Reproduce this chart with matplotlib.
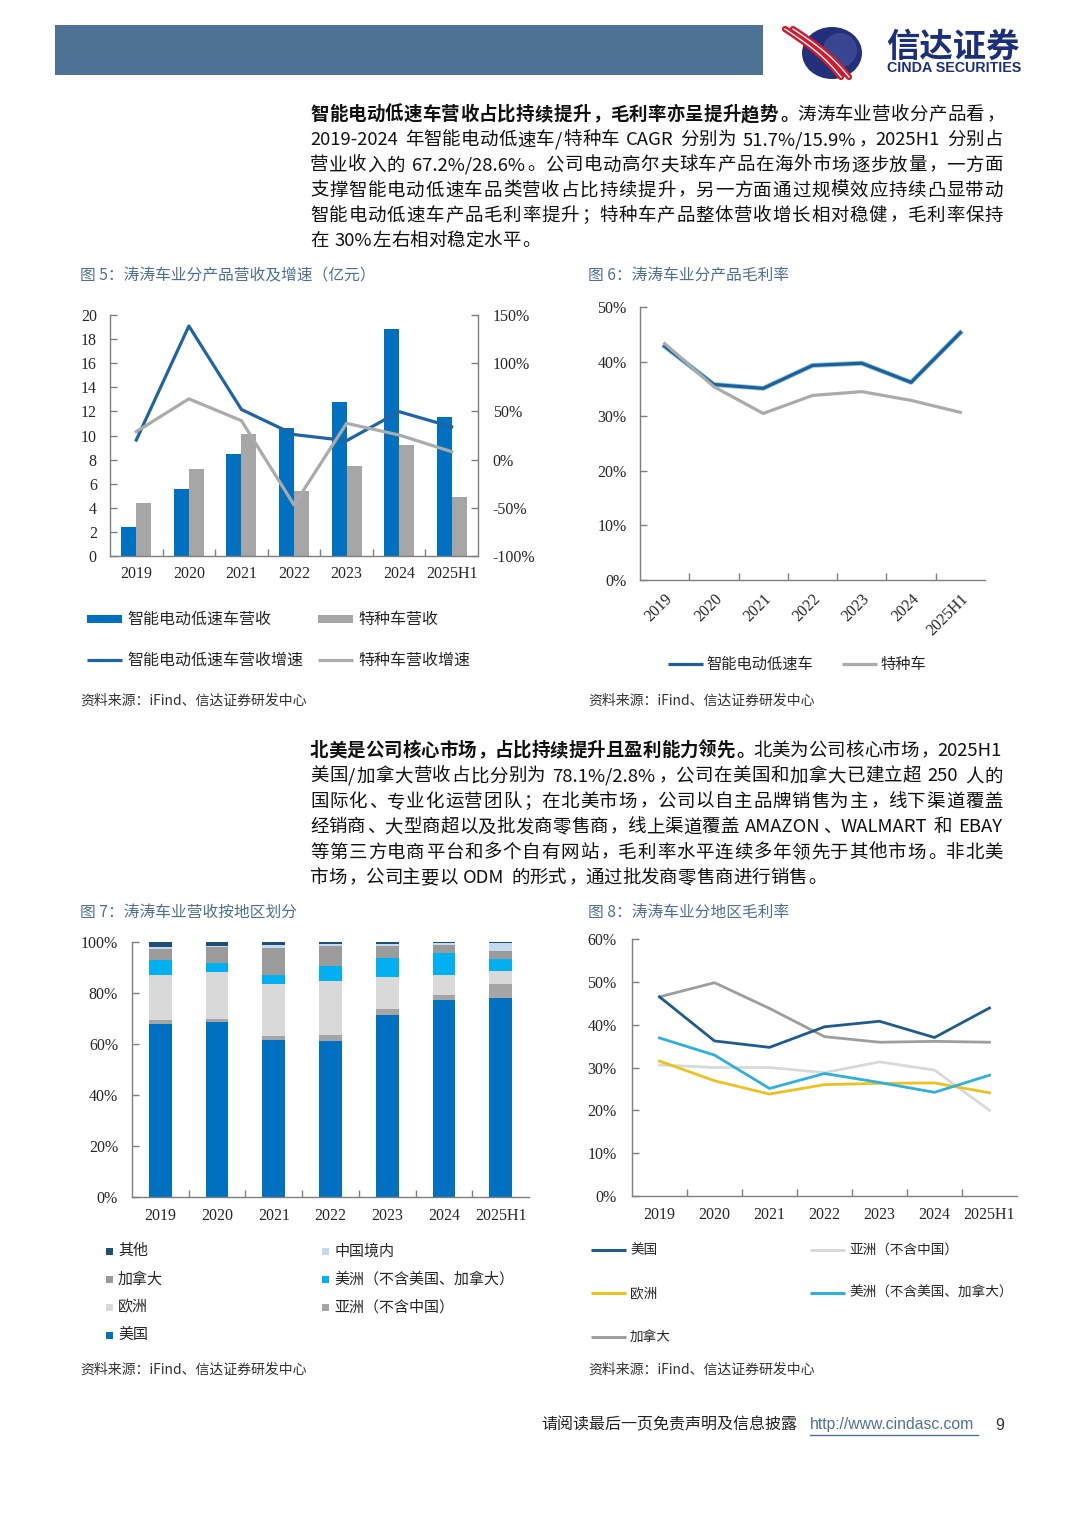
import re
import numpy as np
import matplotlib
matplotlib.use('Agg')
import matplotlib.pyplot as plt
from matplotlib.patches import Rectangle, Ellipse
from matplotlib.font_manager import FontProperties
import matplotlib.patheffects as pe

CJK = ['Noto Sans CJK SC', 'DejaVu Sans']
SERIF = ['Liberation Serif', 'DejaVu Serif']
plt.rcParams['font.family'] = CJK

# ---------------- data ----------------
years = ['2019', '2020', '2021', '2022', '2023', '2024', '2025H1']

# Fig 5: revenue (亿元) and growth (%)
rev_smart = [2.4, 5.6, 8.5, 10.65, 12.8, 18.87, 11.54]
rev_special = [4.4, 7.2, 10.1, 5.4, 7.44, 9.21, 4.9]
growth_smart = [20.3, 138.6, 52.0, 26.0, 19.6, 49.7, 34.0]
growth_special = [29.0, 63.0, 40.4, -47.0, 37.6, 25.5, 8.2]

# Fig 6: gross margin by product (%)
margin_smart = [42.8, 35.8, 35.1, 39.3, 39.7, 36.2, 45.3]
margin_special = [43.3, 35.4, 30.5, 33.8, 34.5, 32.9, 30.7]

# Fig 7: revenue share by region (%), bottom to top
share_us = [67.7, 68.6, 61.7, 61.2, 71.4, 77.1, 78.1]
share_asia = [1.8, 1.3, 1.5, 2.5, 2.4, 2.0, 5.3]
share_eu = [17.4, 18.3, 20.5, 21.0, 12.5, 7.8, 5.4]
share_am = [6.2, 3.4, 3.5, 5.9, 7.4, 8.9, 4.7]
share_ca = [4.2, 6.4, 10.5, 7.8, 4.6, 3.2, 2.8]
share_cn = [0.6, 0.6, 1.1, 0.9, 0.9, 0.7, 3.2]
share_other = [2.1, 1.4, 1.2, 0.7, 0.8, 0.3, 0.5]

# Fig 8: gross margin by region (%)
gm_us = [46.5, 36.2, 34.7, 39.5, 40.8, 37.0, 43.9]
gm_asia = [30.6, 30.0, 30.0, 28.8, 31.3, 29.4, 20.0]
gm_eu = [31.5, 26.9, 23.8, 26.0, 26.3, 26.4, 24.1]
gm_am = [36.9, 32.9, 25.1, 28.6, 26.5, 24.2, 28.2]
gm_ca = [46.5, 49.8, 43.8, 37.2, 35.9, 36.1, 35.9]

# ---------------- figure ----------------
W, H = 1080, 1527
fig = plt.figure(figsize=(W / 100, H / 100), dpi=100)
fig.patch.set_facecolor('white')
bg = fig.add_axes([0, 0, 1, 1])
bg.set_xlim(0, W)
bg.set_ylim(H, 0)
bg.axis('off')
renderer = fig.canvas.get_renderer()


def px_axes(x0, y0, x1, y1):
    ax = fig.add_axes([x0 / W, 1 - y1 / H, (x1 - x0) / W, (y1 - y0) / H])
    ax.set_facecolor('none')
    return ax


SPINE = '#7f7f7f'
TICKC = '#262626'


def style(ax, spines=('left', 'bottom'), size=11.5, ypad=9.5, xpad=6):
    for k, s in ax.spines.items():
        s.set_visible(k in spines)
        s.set_color(SPINE)
        s.set_linewidth(1)
    ax.tick_params(direction='in', length=5, color=SPINE, labelsize=size,
                   labelcolor=TICKC, labelfontfamily=SERIF, width=1)
    ax.tick_params(axis='y', pad=ypad)
    ax.tick_params(axis='x', pad=xpad)


def cat_xaxis(ax, n, rotation=0, pad=6):
    ax.set_xlim(-0.5, n - 0.5)
    ax.set_xticks(np.arange(0.5, n - 1, 1.0))
    ax.set_xticklabels([])
    ax.set_xticks(np.arange(n), minor=True)
    if rotation:
        ax.set_xticklabels(years, minor=True, rotation=rotation, ha='right',
                           rotation_mode='anchor')
    else:
        ax.set_xticklabels(years, minor=True)
    ax.tick_params(axis='x', which='minor', length=0, pad=pad,
                   labelsize=11.5, labelcolor=TICKC, labelfontfamily=SERIF)


pctfmt = matplotlib.ticker.FuncFormatter(lambda v, p: f'{v:.0f}%')
x = np.arange(len(years))

# ---------------- header ----------------
bg.add_patch(Rectangle((55, 25), 708, 50, color='#4e7296', lw=0))
bg.add_patch(Ellipse((832, 53), 60, 52, color='#25307a', lw=0))
bg.add_patch(Ellipse((840, 50), 34, 34, color='#4a5aa8', lw=0, alpha=0.55))
tt = np.linspace(0, 1, 60)
for off in (-4, 4):
    xs = 789 + off + 56 * tt + 5 * np.sin(np.pi * tt)
    ys = 29 + 48 * tt
    bg.plot(xs, ys, color='#d7182a', lw=4.5, solid_capstyle='round')
    bg.plot(xs, ys, color='white', lw=1.0)
bg.text(886, 57, '信达证券', fontsize=24, fontweight='bold', color='#1b2f7a',
        va='baseline', ha='left')
bg.text(887, 72, 'CINDA SECURITIES', fontsize=10.3, fontweight='bold',
        family=['Liberation Sans', 'DejaVu Sans'], color='#1b2f7a',
        va='baseline', ha='left')

# ---------------- justified body text ----------------
TOK = re.compile(r'[A-Za-z0-9%./\-]+|\s+|.')
BODY = 13.3
EM = BODY / 72 * 100


def measure(t, wt, size):
    fp = FontProperties(family=CJK, size=size, weight=wt)
    w, h, d = renderer.get_text_width_height_descent(t, fp, ismath=False)
    return w


def jline(segments, x0, x1, yc, justify=True):
    toks = []
    for s, wt in segments:
        for t in TOK.findall(s):
            toks.append((t, wt))
    widths = []
    for t, wt in toks:
        if t.isspace():
            widths.append(0.3 * EM)
        elif ord(t[0]) > 0x2E80:
            widths.append(EM)
        else:
            widths.append(measure(t, wt, BODY) + 1)
    total = sum(widths)
    gap = (x1 - x0 - total) / (len(toks) - 1) if (justify and len(toks) > 1) else 0.0
    xx = x0
    yb = yc + 0.38 * EM
    for (t, wt), w in zip(toks, widths):
        if not t.isspace():
            kw = dict(fontsize=BODY, fontweight=wt, color='#111111', va='baseline')
            if ord(t[0]) > 0x2E80:
                if t in '，。；、：':
                    bg.text(xx + 0.08 * EM, yb, t, ha='left', **kw)
                elif t == '（':
                    bg.text(xx + 0.95 * EM, yb, t, ha='right', **kw)
                elif t == '）':
                    bg.text(xx + 0.05 * EM, yb, t, ha='left', **kw)
                else:
                    bg.text(xx + EM / 2, yb, t, ha='center', **kw)
            else:
                bg.text(xx, yb, t, ha='left', **kw)
        xx += w + gap


para1 = [
    [('智能电动低速车营收占比持续提升，毛利率亦呈提升趋势。', 'bold'), ('涛涛车业营收分产品看，', 'normal')],
    [('2019-2024 年智能电动低速车/特种车 CAGR 分别为 51.7%/15.9%，2025H1 分别占', 'normal')],
    [('营业收入的 67.2%/28.6%。公司电动高尔夫球车产品在海外市场逐步放量，一方面', 'normal')],
    [('支撑智能电动低速车品类营收占比持续提升，另一方面通过规模效应持续凸显带动', 'normal')],
    [('智能电动低速车产品毛利率提升；特种车产品整体营收增长相对稳健，毛利率保持', 'normal')],
    [('在 30%左右相对稳定水平。', 'normal')],
]
para2 = [
    [('北美是公司核心市场，占比持续提升且盈利能力领先。', 'bold'), ('北美为公司核心市场，2025H1', 'normal')],
    [('美国/加拿大营收占比分别为 78.1%/2.8%，公司在美国和加拿大已建立超 250 人的', 'normal')],
    [('国际化、专业化运营团队；在北美市场，公司以自主品牌销售为主，线下渠道覆盖', 'normal')],
    [('经销商、大型商超以及批发商零售商，线上渠道覆盖 AMAZON、WALMART 和 EBAY', 'normal')],
    [('等第三方电商平台和多个自有网站，毛利率水平连续多年领先于其他市场。非北美', 'normal')],
    [('市场，公司主要以 ODM 的形式，通过批发商零售商进行销售。', 'normal')],
]
for i, segs in enumerate(para1):
    jline(segs, 310, 1003, 113 + i * 25.2, justify=(i < len(para1) - 1))
for i, segs in enumerate(para2):
    jline(segs, 310, 1003, 749 + i * 25.4, justify=(i < len(para2) - 1))

# ---------------- captions / sources ----------------
CAPC = '#4d6f96'
bg.text(80, 276, '图 5：涛涛车业分产品营收及增速（亿元）', fontsize=11.3, color=CAPC, va='center')
bg.text(588, 276, '图 6：涛涛车业分产品毛利率', fontsize=11.3, color=CAPC, va='center')
bg.text(80, 912, '图 7：涛涛车业营收按地区划分', fontsize=11.3, color=CAPC, va='center')
bg.text(588, 912, '图 8：涛涛车业分地区毛利率', fontsize=11.3, color=CAPC, va='center')
for sx, sy in ((80, 701), (588, 701), (80, 1370), (588, 1370)):
    bg.text(sx, sy, '资料来源：iFind、信达证券研发中心', fontsize=10, color='#333333',
            va='center', style='italic')

# footer
bg.text(541, 1425, '请阅读最后一页免责声明及信息披露', fontsize=11.5, color='#222222', va='center')
bg.text(810, 1425, 'http://www.cindasc.com', fontsize=11.3, color='#4f6f9f', va='center',
        family=['Liberation Sans', 'DejaVu Sans'])
bg.plot([810, 978], [1435, 1435], color='#4f6f9f', lw=1)
bg.text(995, 1425, '9', fontsize=11.5, color='#333333', va='center',
        family=['Liberation Sans', 'DejaVu Sans'])

# ---------------- Fig 5 ----------------
C_BLUE = '#0070c0'
C_GRAY = '#a6a6a6'
ax5 = px_axes(110, 315, 478, 556)
bw = 0.285
ax5.bar(x - bw / 2, rev_smart, bw, color=C_BLUE, zorder=2)
ax5.bar(x + bw / 2, rev_special, bw, color=C_GRAY, zorder=2)
ax5.set_ylim(0, 20)
ax5.set_yticks(np.arange(0, 21, 2))
style(ax5, spines=('left', 'bottom'), ypad=9.5)
cat_xaxis(ax5, len(years), pad=7)
ax5b = ax5.twinx()
ax5b.plot(x, growth_smart, color='#1f64a6', lw=2.3, zorder=3)
ax5b.plot(x, growth_special, color='#ababab', lw=2.3, zorder=3)
ax5b.set_ylim(-100, 150)
ax5b.set_yticks(np.arange(-100, 151, 50))
ax5b.yaxis.set_major_formatter(pctfmt)
style(ax5b, spines=('right',), ypad=10.5)
ax5b.tick_params(axis='y', labelright=True, labelleft=False)

# legend fig 5
bg.add_patch(Rectangle((87, 615), 35, 8, color=C_BLUE, lw=0))
bg.text(127, 619, '智能电动低速车营收', fontsize=11.5, color='#262626', va='center')
bg.add_patch(Rectangle((318, 615), 35, 8, color=C_GRAY, lw=0))
bg.text(358, 619, '特种车营收', fontsize=11.5, color='#262626', va='center')
bg.plot([87, 122], [660, 660], color='#1f64a6', lw=2.3, solid_capstyle='butt')
bg.text(127, 660, '智能电动低速车营收增速', fontsize=11.5, color='#262626', va='center')
bg.plot([318, 353], [660, 660], color='#ababab', lw=2.3, solid_capstyle='butt')
bg.text(358, 660, '特种车营收增速', fontsize=11.5, color='#262626', va='center')

# ---------------- Fig 6 ----------------
ax6 = px_axes(640, 307, 985, 580)
C6B = '#1f5f94'
ax6.plot(x, margin_smart, color=C6B, lw=2.3,
         path_effects=[pe.Stroke(linewidth=3.6, foreground='#8fc7ea'), pe.Normal()])
ax6.plot(x, margin_special, color='#ababab', lw=2.3)
ax6.set_ylim(0, 50)
ax6.set_yticks(np.arange(0, 51, 10))
ax6.yaxis.set_major_formatter(pctfmt)
style(ax6, ypad=9.5)
cat_xaxis(ax6, len(years), rotation=45, pad=8)
bg.plot([668, 703], [664, 664], color=C6B, lw=2.3, solid_capstyle='butt')
bg.text(706, 664, '智能电动低速车', fontsize=11, color='#262626', va='center')
bg.plot([842, 877], [664, 664], color='#ababab', lw=2.3, solid_capstyle='butt')
bg.text(880, 664, '特种车', fontsize=11, color='#262626', va='center')

# ---------------- Fig 7 ----------------
ax7 = px_axes(132, 942, 529, 1197)
stack = [
    ('美国', share_us, '#0070c0'),
    ('亚洲（不含中国）', share_asia, '#a5a5a5'),
    ('欧洲', share_eu, '#d9d9d9'),
    ('美洲（不含美国、加拿大）', share_am, '#00b0f0'),
    ('加拿大', share_ca, '#9b9b9b'),
    ('中国境内', share_cn, '#c5d9ef'),
    ('其他', share_other, '#1f4e79'),
]
bottom = np.zeros(len(years))
for name, vals, col in stack:
    ax7.bar(x, vals, 0.4, bottom=bottom, color=col, lw=0, label=name)
    bottom += np.array(vals)
ax7.set_ylim(0, 100)
ax7.set_yticks(np.arange(0, 101, 20))
ax7.yaxis.set_major_formatter(pctfmt)
style(ax7, ypad=10)
cat_xaxis(ax7, len(years), pad=8)

colmap = {n: c for n, _, c in stack}
leg7 = [((106, 1251), '其他'), ((106, 1279), '加拿大'), ((106, 1307), '欧洲'), ((106, 1335), '美国'),
        ((322, 1251), '中国境内'), ((322, 1279), '美洲（不含美国、加拿大）'), ((322, 1307), '亚洲（不含中国）')]
for (lx, ly), name in leg7:
    bg.add_patch(Rectangle((lx, ly - 3.5), 7, 7, color=colmap[name], lw=0))
    bg.text(lx + 12, ly, name, fontsize=10.8, color='#262626', va='center')

# ---------------- Fig 8 ----------------
ax8 = px_axes(632, 939, 1017, 1196)
lines8 = [
    ('加拿大', gm_ca, '#9e9e9e'),
    ('亚洲（不含中国）', gm_asia, '#d9d9d9'),
    ('欧洲', gm_eu, '#ebc21f'),
    ('美洲（不含美国、加拿大）', gm_am, '#2fb1dc'),
    ('美国', gm_us, '#1f5c8c'),
]
for name, vals, col in lines8:
    ax8.plot(x, vals, color=col, lw=2.0, label=name)
ax8.set_ylim(0, 60)
ax8.set_yticks(np.arange(0, 61, 10))
ax8.yaxis.set_major_formatter(pctfmt)
style(ax8, ypad=11)
cat_xaxis(ax8, len(years), pad=8)

colmap8 = {n: c for n, _, c in lines8}
leg8 = [((591, 1250), '美国'), ((591, 1293), '欧洲'), ((591, 1337), '加拿大'),
        ((810, 1250), '亚洲（不含中国）'), ((810, 1293), '美洲（不含美国、加拿大）')]
for (lx, ly), name in leg8:
    bg.plot([lx, lx + 35], [ly, ly], color=colmap8[name], lw=2.2, solid_capstyle='butt')
    bg.text(lx + 39, ly, name, fontsize=9.8, color='#262626', va='center')

fig.savefig('out.png', dpi=100, facecolor='white')
